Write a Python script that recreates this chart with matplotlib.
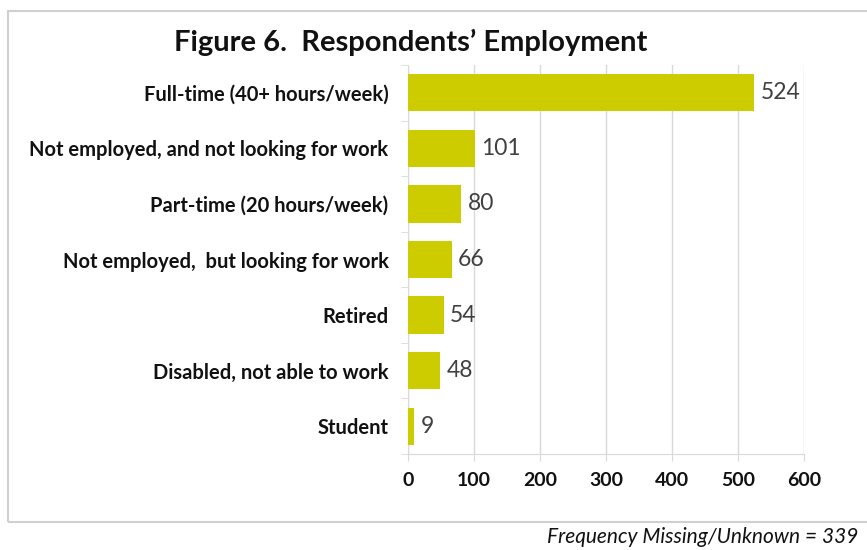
import matplotlib.pyplot as plt
from matplotlib.patches import Rectangle

categories = ['Full-time (40+ hours/week)',
              'Not employed, and not looking for work',
              'Part-time (20 hours/week)',
              'Not employed,  but looking for work',
              'Retired',
              'Disabled, not able to work',
              'Student']
counts = [524, 101, 80, 66, 54, 48, 9]
xticks = [0, 100, 200, 300, 400, 500, 600]

bar_color = '#CCCC00'
grid_color = '#D9D9D9'

plt.rcParams['font.family'] = ['Lato', 'DejaVu Sans']

fig = plt.figure(figsize=(8.67, 5.5), dpi=100)
ax = fig.add_axes([0.4706, 0.1745, 0.4567, 0.7073])

y = list(range(len(categories)))
ax.barh(y, counts, height=0.67, color=bar_color, zorder=3)
ax.set_ylim(len(categories) - 0.5, -0.5)
ax.set_xlim(0, 600)

for yi, v in zip(y, counts):
    ax.text(v + 10, yi, str(v), va='center', ha='left', fontsize=16.5, color='#404040')

ax.set_yticks(y)
ax.set_yticklabels(categories, fontsize=14.5, fontweight='bold', color='#111111')
ax.set_xticks(xticks)
ax.set_xticklabels([str(t) for t in xticks], fontsize=14, fontweight='bold', color='#111111')

# category boundary ticks on the y axis
ax.set_yticks([i + 0.5 for i in range(-1, len(categories))], minor=True)
ax.tick_params(axis='y', which='major', length=0, pad=14)
ax.tick_params(axis='y', which='minor', length=5, color=grid_color)
ax.tick_params(axis='x', length=5, color=grid_color, pad=8)

ax.grid(axis='x', color=grid_color, linewidth=1, zorder=0)
for s in ['top', 'right']:
    ax.spines[s].set_visible(False)
for s in ['left', 'bottom']:
    ax.spines[s].set_color(grid_color)

# outer frame
fig.patches.append(Rectangle((8 / 867, 1 - 522 / 550), 1.0, (522 - 11) / 550,
                             transform=fig.transFigure, fill=False,
                             edgecolor='#D0D0D0', linewidth=1.5))

fig.text(411 / 867, 1 - 42 / 550, 'Figure 6.  Respondents\u2019 Employment',
         ha='center', va='center', fontsize=21, fontweight='bold', color='#111111')
fig.text(858 / 867, 1 - 537 / 550, 'Frequency Missing/Unknown = 339',
         ha='right', va='center', fontsize=15, style='italic', color='#111111')

fig.savefig('out.png', dpi=100)
